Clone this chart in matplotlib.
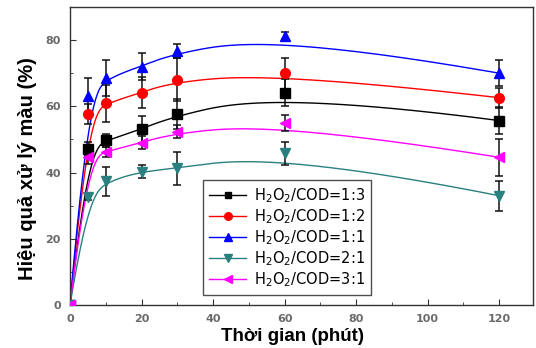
import numpy as np
import matplotlib
matplotlib.use("Agg")
import matplotlib.pyplot as plt
from matplotlib.lines import Line2D

plt.rcParams['font.family'] = ['Liberation Sans', 'DejaVu Sans']

# Reaction time (minutes)
time_min = [0, 5, 10, 20, 30, 60, 120]

# Colour removal efficiency (%) for each H2O2/COD ratio
eff_13 = [0, 47.1, 49.7, 53.0, 57.7, 64.1, 55.7]
eff_12 = [0, 57.7, 60.9, 64.1, 68.0, 70.0, 62.6]
eff_11 = [0, 63.1, 68.5, 72.0, 76.7, 81.3, 70.0]
eff_21 = [0, 32.7, 37.3, 40.3, 41.3, 45.8, 33.0]
eff_31 = [0, 44.6, 46.3, 49.0, 52.3, 54.9, 44.6]

# Standard deviations (%)
err_13 = [0, 2.0, 2.0, 4.0, 4.5, 4.0, 4.2]
err_12 = [0, 3.0, 5.5, 4.7, 6.5, 4.7, 3.0]
err_11 = [0, 5.5, 5.5, 4.0, 2.2, 1.0, 4.0]
err_21 = [0, 1.0, 4.5, 2.0, 5.0, 3.5, 4.5]
err_31 = [0, 2.0, 1.5, 2.0, 2.0, 2.5, 5.6]

labels = ['H$_2$O$_2$/COD=1:3', 'H$_2$O$_2$/COD=1:2', 'H$_2$O$_2$/COD=1:1',
          'H$_2$O$_2$/COD=2:1', 'H$_2$O$_2$/COD=3:1']
series = [eff_13, eff_12, eff_11, eff_21, eff_31]
errors = [err_13, err_12, err_11, err_21, err_31]
colors = ['#000000', '#ff0000', '#0000ff', '#2a8080', '#ff00ff']
markers = ['s', 'o', '^', 'v', '<']
msizes = [6.5, 7, 7.5, 7.5, 7.5]


def bspline(xs, ys, k=3, num=400):
    """Clamped uniform B-spline using the data points as control points."""
    ctrl = np.column_stack([xs, ys]).astype(float)
    n = len(ctrl)
    knots = np.concatenate([np.zeros(k), np.linspace(0, 1, n - k + 1),
                            np.ones(k)])
    out = []
    for u in np.linspace(0, 1, num):
        s = np.searchsorted(knots, u, side='right') - 1
        s = min(max(s, k), n - 1)
        d = [ctrl[j + s - k].copy() for j in range(k + 1)]
        for r in range(1, k + 1):
            for j in range(k, r - 1, -1):
                lo = knots[j + s - k]
                hi = knots[j + 1 + s - r]
                a = 0.0 if hi == lo else (u - lo) / (hi - lo)
                d[j] = (1 - a) * d[j - 1] + a * d[j]
        out.append(d[k])
    out = np.array(out)
    return out[:, 0], out[:, 1]


fig = plt.figure(figsize=(5.36, 3.48), dpi=100)
ax = fig.add_axes([0.1306, 0.1236, 0.864, 0.8564])

handles = []
for y, e, c, m, ms, lab in zip(series, errors, colors, markers, msizes,
                               labels):
    cx, cy = bspline(time_min, y)
    ax.plot(cx, cy, color=c, lw=1.0, zorder=2)
    ax.errorbar(time_min, y, yerr=e, fmt='none', ecolor='#111111',
                elinewidth=1.1, capsize=2.8, capthick=1.1, zorder=3)
    ax.plot(time_min, y, ls='none', marker=m, color=c, markersize=ms,
            zorder=4)
    handles.append(Line2D([], [], color=c, lw=1.0, marker=m,
                          markersize=ms - 1.5, label=lab))

ax.set_xlim(0, 129.5)
ax.set_ylim(0, 90)
ax.set_xticks([0, 20, 40, 60, 80, 100, 120])
ax.set_xticks(np.arange(10, 130, 20), minor=True)
ax.set_yticks([0, 20, 40, 60, 80])
ax.set_yticks([10, 30, 50, 70], minor=True)
ax.tick_params(which='both', direction='in', top=False, right=False,
               colors='#333333', labelcolor='#6a6a6a', pad=6.5)
ax.tick_params(which='major', length=4)
ax.tick_params(which='minor', length=2.5)
for lab in ax.get_xticklabels() + ax.get_yticklabels():
    lab.set_fontweight('bold')
    lab.set_fontfamily('DejaVu Sans')
    lab.set_fontsize(8)
for sp in ax.spines.values():
    sp.set_color('#333333')
    sp.set_linewidth(1.0)

ax.set_xlabel('Thời gian (phút)', fontsize=13.5, fontweight='bold')
ax.set_ylabel('Hiệu quả xử lý màu (%)', fontsize=14.5, fontweight='bold')
ax.xaxis.set_label_coords(0.4795, -0.078)
ax.yaxis.set_label_coords(-0.071, 0.458)

leg = ax.legend(handles=handles, loc='lower left',
                bbox_to_anchor=(0.2866, 0.0336), borderaxespad=0,
                prop={'family': 'DejaVu Sans', 'size': 10.5}, frameon=True,
                fancybox=False, edgecolor='#222222', handlelength=2.6,
                borderpad=0.4, labelspacing=0.16, handletextpad=0.5)
leg.get_frame().set_linewidth(1.0)

fig.savefig('out.png', dpi=100)
